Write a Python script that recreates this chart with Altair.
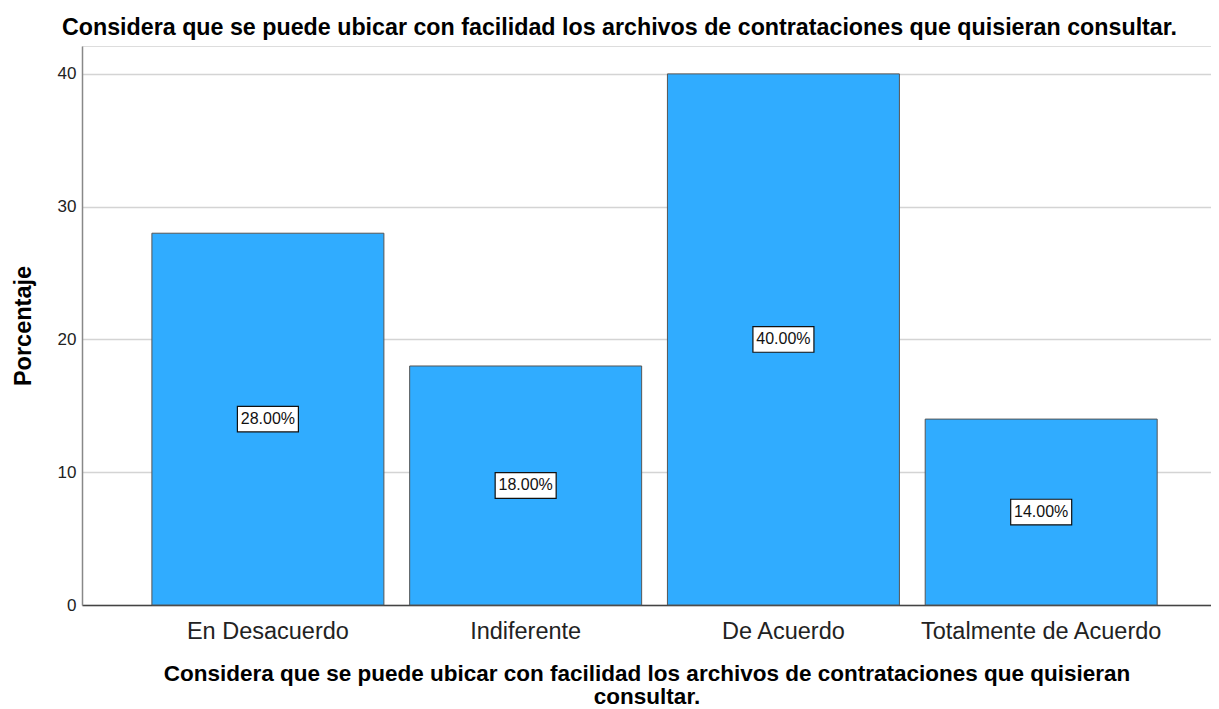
import altair as alt
import pandas as pd

categories = ["En Desacuerdo", "Indiferente", "De Acuerdo", "Totalmente de Acuerdo"]
values = [28.0, 18.0, 40.0, 14.0]
labels = ["28.00%", "18.00%", "40.00%", "14.00%"]
y_ticks = [0, 10, 20, 30, 40]

df = pd.DataFrame({"cat": categories, "val": values, "lab": labels})
df["mid"] = df["val"] / 2

FONT = "Liberation Sans"
TITLE = "Considera que se puede ubicar con facilidad los archivos de contrataciones que quisieran consultar."

x_enc = alt.X(
    "cat:N",
    sort=categories,
    scale=alt.Scale(paddingInner=0.1, paddingOuter=0.24, align=0.565),
    axis=alt.Axis(
        title=["Considera que se puede ubicar con facilidad los archivos de contrataciones que quisieran", "consultar."],
        titleFont=FONT, titleFontSize=22.5, titleFontWeight="bold", titleColor="#000",
        titlePadding=20, titleLineHeight=23,
        labelFont=FONT, labelFontSize=23.5, labelColor="#222", labelAngle=0, labelPadding=14,
        labelLimit=0,
        ticks=False, domainColor="#444", domainWidth=1.5, grid=False,
    ),
)

y_scale = alt.Scale(domain=[0, 42.1], nice=False)

bars = alt.Chart(df).mark_bar(color="#30acff", stroke="#555", strokeWidth=1).encode(
    x=x_enc,
    y=alt.Y(
        "val:Q",
        scale=y_scale,
        axis=alt.Axis(
            title="Porcentaje", titleFont=FONT, titleFontSize=23.5, titleFontWeight="bold",
            titleColor="#000", titlePadding=22,
            values=y_ticks, labelFont=FONT, labelFontSize=17, labelColor="#222",
            labelPadding=6, ticks=False, domainColor="#888", domainWidth=1.5,
            grid=True, gridColor="#d4d4d4", gridWidth=1.5,
        ),
    ),
)

boxes = alt.Chart(df).mark_point(
    shape="M-1,-0.42L1,-0.42L1,0.42L-1,0.42Z",
    size=3721, filled=True, fill="white", stroke="#111", strokeWidth=1.2, opacity=1,
).encode(
    x=alt.X("cat:N", sort=categories),
    y=alt.Y("mid:Q", scale=y_scale),
)

texts = alt.Chart(df).mark_text(font=FONT, fontSize=16, color="#111", baseline="middle").encode(
    x=alt.X("cat:N", sort=categories),
    y=alt.Y("mid:Q", scale=y_scale),
    text="lab:N",
)

chart = alt.layer(bars, boxes, texts).properties(
    width=1129,
    height=559,
    title=alt.TitleParams(
        TITLE, font=FONT, fontSize=23.25, fontWeight="bold", color="#000",
        anchor="middle", frame="group", dx=-27, offset=6,
    ),
    autosize=alt.AutoSizeParams(type="none"),
    padding={"left": 74, "top": 38, "right": 0, "bottom": 103},
).configure_view(stroke=None).configure(background="white")

chart.save("out.html", embed_options={"renderer": "svg", "actions": False})
